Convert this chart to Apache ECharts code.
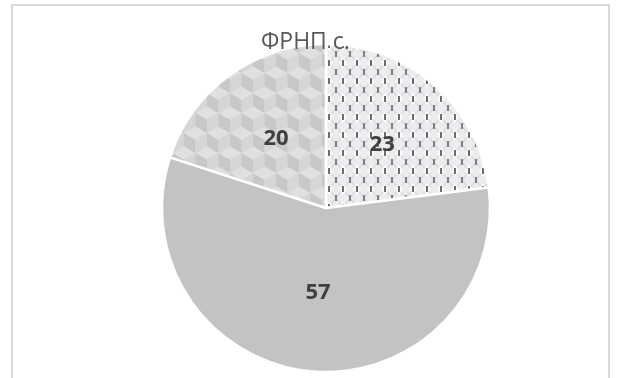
<!DOCTYPE html>
<html>
<head>
<meta charset="utf-8">
<script src="https://cdn.jsdelivr.net/npm/echarts@6/dist/echarts.min.js"></script>
<style>
  html, body { margin: 0; padding: 0; background: #ffffff; }
  #chart { width: 619px; height: 378px; }
</style>
</head>
<body>
<div id="chart"></div>
<script>
// Chart data
const chartTitle = 'ФРНП с.';
const categories = ['A', 'B', 'C'];
const values = [23, 57, 20];

// Quilted fill with small dark stitches
function quiltPattern() {
  const w = 14, h = 18;
  const c = document.createElement('canvas');
  c.width = w; c.height = h;
  const g = c.getContext('2d');
  g.fillStyle = '#ececef';
  g.fillRect(0, 0, w, h);
  g.strokeStyle = '#d6d6da';
  g.lineWidth = 1.2;
  g.beginPath();
  g.moveTo(0, 0); g.lineTo(w, h);
  g.moveTo(w, 0); g.lineTo(0, h);
  g.stroke();
  g.fillStyle = '#fafafc';
  g.beginPath();
  g.moveTo(w / 2, 3); g.lineTo(w - 3, h / 2); g.lineTo(w / 2, h - 3); g.lineTo(3, h / 2);
  g.closePath();
  g.fill();
  g.fillStyle = '#6e6e6e';
  g.fillRect(w / 2 - 1, h / 2 - 3, 2, 6);
  g.fillStyle = '#808080';
  g.fillRect(-1, -3, 2, 6);
  g.fillRect(w - 1, -3, 2, 6);
  g.fillRect(-1, h - 3, 2, 6);
  g.fillRect(w - 1, h - 3, 2, 6);
  return c;
}

// Isometric cube fill
function cubePattern() {
  const w = 23, s = w / Math.sqrt(3), h = Math.round(3 * s);
  const c = document.createElement('canvas');
  c.width = w; c.height = h;
  const g = c.getContext('2d');
  g.fillStyle = '#d8d8d8';
  g.fillRect(0, 0, w, h);
  function face(pts, col) {
    g.fillStyle = col;
    g.beginPath();
    g.moveTo(pts[0][0], pts[0][1]);
    for (let k = 1; k < pts.length; k++) g.lineTo(pts[k][0], pts[k][1]);
    g.closePath();
    g.fill();
  }
  for (let j = -1; j <= 3; j++) {
    for (let i = -1; i <= 2; i++) {
      const cx = i * w + (Math.abs(j) % 2 ? w / 2 : 0);
      const cy = j * 1.5 * s;
      face([[cx, cy], [cx - w / 2, cy - s / 2], [cx, cy - s], [cx + w / 2, cy - s / 2]], '#e0e0e0');
      face([[cx, cy], [cx - w / 2, cy - s / 2], [cx - w / 2, cy + s / 2], [cx, cy + s]], '#c8c8c8');
      face([[cx, cy], [cx + w / 2, cy - s / 2], [cx + w / 2, cy + s / 2], [cx, cy + s]], '#d6d6d6');
    }
  }
  return c;
}

const fills = [
  { image: quiltPattern(), repeat: 'repeat' },
  '#c3c3c3',
  { image: cubePattern(), repeat: 'repeat' }
];

const chart = echarts.init(document.getElementById('chart'), null, { renderer: 'canvas' });
chart.setOption({
  animation: false,
  backgroundColor: '#ffffff',
  graphic: [{
    type: 'rect',
    shape: { x: 12, y: 5, width: 597, height: 420 },
    style: { fill: 'none', stroke: '#d9d9d9', lineWidth: 2 },
    z: -1
  }, {
    type: 'text',
    left: 261,
    top: 31,
    z: 100,
    style: {
      text: chartTitle,
      fill: '#595959',
      font: '23px "Open Sans", "Liberation Sans", sans-serif'
    }
  }],
  series: [{
    type: 'pie',
    center: [326, 208],
    radius: 164,
    startAngle: 90,
    clockwise: true,
    avoidLabelOverlap: false,
    itemStyle: { borderColor: '#ffffff', borderWidth: 2.5 },
    label: {
      show: true,
      position: 'inside',
      formatter: '{c}',
      color: '#404040',
      fontSize: 22,
      fontWeight: 'bold',
      fontFamily: '"Open Sans", "Liberation Sans", sans-serif'
    },
    labelLine: { show: false },
    emphasis: { disabled: true },
    data: values.map((v, i) => ({
      name: categories[i],
      value: v,
      itemStyle: { color: fills[i] }
    }))
  }]
});
</script>
</body>
</html>
